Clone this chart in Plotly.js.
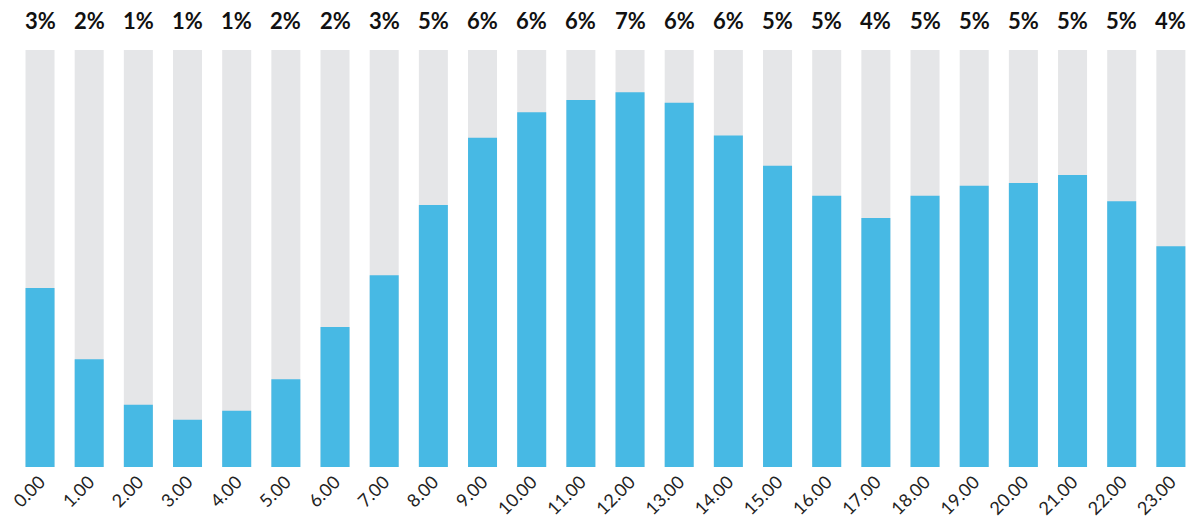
<!DOCTYPE html>
<html>
<head>
<meta charset="utf-8">
<script src="https://cdn.plot.ly/plotly-3.0.1.min.js"></script>
<style>html,body{margin:0;padding:0;background:#fff;}#chart{width:1193px;height:522px;}</style>
</head>
<body>
<div id="chart"></div>
<script>
const hours = ["0.00","1.00","2.00","3.00","4.00","5.00","6.00","7.00","8.00","9.00","10.00","11.00","12.00","13.00","14.00","15.00","16.00","17.00","18.00","19.00","20.00","21.00","22.00","23.00"];
const shares = [3.22, 1.94, 1.12, 0.85, 1.01, 1.58, 2.52, 3.45, 4.71, 5.92, 6.38, 6.6, 6.74, 6.55, 5.96, 5.42, 4.88, 4.48, 4.88, 5.06, 5.11, 5.25, 4.78, 3.97];
const shareLabels = ["3%","2%","1%","1%","1%","2%","2%","3%","5%","6%","6%","6%","7%","6%","6%","5%","5%","4%","5%","5%","5%","5%","5%","4%"];
const scaleMax = 7.5;

const bg = {
  type: 'bar', x: hours, y: hours.map(() => scaleMax),
  marker: {color: '#E5E6E8'}, width: 0.59, hoverinfo: 'skip', showlegend: false
};
const fg = {
  type: 'bar', x: hours, y: shares,
  marker: {color: '#47B9E4'}, width: 0.59, showlegend: false
};
const annotations = hours.map((h, i) => ({
  x: h, y: scaleMax, xref: 'x', yref: 'y', text: '<b>' + shareLabels[i] + '</b>',
  showarrow: false, yanchor: 'bottom', yshift: 14,
  font: {family: 'Lato, sans-serif', size: 22, color: '#111'}
}));
Plotly.newPlot('chart', [bg, fg], {
  width: 1193, height: 522,
  margin: {l: 0, r: 0, t: 50, b: 55},
  barmode: 'overlay',
  paper_bgcolor: '#fff', plot_bgcolor: '#fff',
  xaxis: {type: 'category', range: [-0.814, 23.45], tickangle: -45, showgrid: false, zeroline: false, showline: false, ticks: '',
          ticklabelstandoff: 0,
          tickfont: {family: 'Lato, sans-serif', size: 18, color: '#222'}},
  yaxis: {range: [0, scaleMax], visible: false, showgrid: false, zeroline: false},
  annotations: annotations
}, {displayModeBar: false, staticPlot: true});
</script>
</body>
</html>
